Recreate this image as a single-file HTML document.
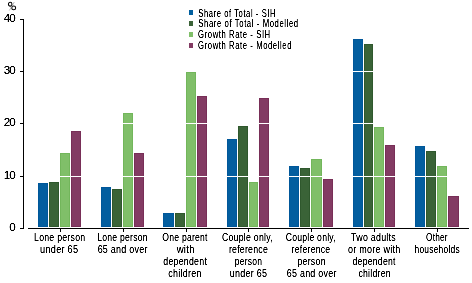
<!DOCTYPE html>
<html><head><meta charset="utf-8"><style>
html,body{margin:0;padding:0;background:#fff;}
svg{display:block;will-change:transform;}
text{font-family:"Liberation Sans",sans-serif;fill:#000;letter-spacing:0.3px;}
text.lg{letter-spacing:0.8px;}
text.num{letter-spacing:-0.9px;}
</style></head><body>
<svg width="472" height="283" viewBox="0 0 472 283">
<g shape-rendering="crispEdges">
<rect x="38" y="183" width="10" height="44" fill="#00579a"/>
<rect x="39" y="184" width="8" height="42" fill="#035e9f"/>
<rect x="49" y="182" width="10" height="45" fill="#2f582d"/>
<rect x="50" y="183" width="8" height="43" fill="#3a6337"/>
<rect x="60" y="153" width="10" height="74" fill="#72b65b"/>
<rect x="61" y="154" width="8" height="72" fill="#80bf69"/>
<rect x="71" y="131" width="10" height="96" fill="#782e57"/>
<rect x="72" y="132" width="8" height="94" fill="#833b63"/>
<rect x="101" y="187" width="10" height="40" fill="#00579a"/>
<rect x="102" y="188" width="8" height="38" fill="#035e9f"/>
<rect x="112" y="189" width="10" height="38" fill="#2f582d"/>
<rect x="113" y="190" width="8" height="36" fill="#3a6337"/>
<rect x="123" y="113" width="10" height="114" fill="#72b65b"/>
<rect x="124" y="114" width="8" height="112" fill="#80bf69"/>
<rect x="134" y="153" width="10" height="74" fill="#782e57"/>
<rect x="135" y="154" width="8" height="72" fill="#833b63"/>
<rect x="163" y="213" width="11" height="14" fill="#00579a"/>
<rect x="164" y="214" width="9" height="12" fill="#035e9f"/>
<rect x="175" y="213" width="10" height="14" fill="#2f582d"/>
<rect x="176" y="214" width="8" height="12" fill="#3a6337"/>
<rect x="186" y="72" width="10" height="155" fill="#72b65b"/>
<rect x="187" y="73" width="8" height="153" fill="#80bf69"/>
<rect x="197" y="96" width="10" height="131" fill="#782e57"/>
<rect x="198" y="97" width="8" height="129" fill="#833b63"/>
<rect x="227" y="139" width="10" height="88" fill="#00579a"/>
<rect x="228" y="140" width="8" height="86" fill="#035e9f"/>
<rect x="238" y="126" width="10" height="101" fill="#2f582d"/>
<rect x="239" y="127" width="8" height="99" fill="#3a6337"/>
<rect x="249" y="182" width="9" height="45" fill="#72b65b"/>
<rect x="250" y="183" width="7" height="43" fill="#80bf69"/>
<rect x="259" y="98" width="10" height="129" fill="#782e57"/>
<rect x="260" y="99" width="8" height="127" fill="#833b63"/>
<rect x="289" y="166" width="10" height="61" fill="#00579a"/>
<rect x="290" y="167" width="8" height="59" fill="#035e9f"/>
<rect x="300" y="168" width="10" height="59" fill="#2f582d"/>
<rect x="301" y="169" width="8" height="57" fill="#3a6337"/>
<rect x="311" y="159" width="11" height="68" fill="#72b65b"/>
<rect x="312" y="160" width="9" height="66" fill="#80bf69"/>
<rect x="323" y="179" width="10" height="48" fill="#782e57"/>
<rect x="324" y="180" width="8" height="46" fill="#833b63"/>
<rect x="353" y="39" width="10" height="188" fill="#00579a"/>
<rect x="354" y="40" width="8" height="186" fill="#035e9f"/>
<rect x="364" y="44" width="9" height="183" fill="#2f582d"/>
<rect x="365" y="45" width="7" height="181" fill="#3a6337"/>
<rect x="374" y="127" width="10" height="100" fill="#72b65b"/>
<rect x="375" y="128" width="8" height="98" fill="#80bf69"/>
<rect x="385" y="145" width="10" height="82" fill="#782e57"/>
<rect x="386" y="146" width="8" height="80" fill="#833b63"/>
<rect x="415" y="146" width="10" height="81" fill="#00579a"/>
<rect x="416" y="147" width="8" height="79" fill="#035e9f"/>
<rect x="426" y="151" width="10" height="76" fill="#2f582d"/>
<rect x="427" y="152" width="8" height="74" fill="#3a6337"/>
<rect x="437" y="166" width="10" height="61" fill="#72b65b"/>
<rect x="438" y="167" width="8" height="59" fill="#80bf69"/>
<rect x="448" y="196" width="11" height="31" fill="#782e57"/>
<rect x="449" y="197" width="9" height="29" fill="#833b63"/>
<rect x="24" y="19" width="446" height="1" fill="#fff"/>
<rect x="24" y="71" width="446" height="1" fill="#fff"/>
<rect x="24" y="123" width="446" height="1" fill="#fff"/>
<rect x="24" y="176" width="446" height="1" fill="#fff"/>
<rect x="23" y="19" width="1" height="210" fill="#000"/>
<rect x="20" y="19" width="3" height="1" fill="#000"/>
<rect x="20" y="71" width="3" height="1" fill="#000"/>
<rect x="20" y="123" width="3" height="1" fill="#000"/>
<rect x="20" y="176" width="3" height="1" fill="#000"/>
<rect x="20" y="228" width="3" height="1" fill="#000"/>
<rect x="28" y="228" width="441" height="1" fill="#000"/>
<rect x="60" y="229" width="1" height="3" fill="#000"/>
<rect x="123" y="229" width="1" height="3" fill="#000"/>
<rect x="186" y="229" width="1" height="3" fill="#000"/>
<rect x="248" y="229" width="1" height="3" fill="#000"/>
<rect x="311" y="229" width="1" height="3" fill="#000"/>
<rect x="374" y="229" width="1" height="3" fill="#000"/>
<rect x="437" y="229" width="1" height="3" fill="#000"/>
</g>
<defs><filter id="c" x="0" y="0" width="472" height="283" filterUnits="userSpaceOnUse"><feComponentTransfer><feFuncA type="linear" slope="1.8" intercept="-0.22"/></feComponentTransfer></filter></defs>
<g fill="none" stroke="#000"><ellipse cx="10.2" cy="4.2" rx="1.75" ry="1.95" stroke-width="1.05"/><ellipse cx="13.7" cy="7.9" rx="1.95" ry="1.9" stroke-width="1.05"/><line x1="14.3" y1="2" x2="9.3" y2="10.5" stroke="#999" stroke-width="0.7"/></g>
<g filter="url(#c)">
<text class="num" transform="translate(14.70,21.9) scale(1.0600,1)" text-anchor="end" style="font-size:11px">40</text>
<text class="num" transform="translate(14.70,73.9) scale(1.0600,1)" text-anchor="end" style="font-size:11px">30</text>
<text class="num" transform="translate(14.70,125.9) scale(1.0600,1)" text-anchor="end" style="font-size:11px">20</text>
<text class="num" transform="translate(14.70,178.9) scale(1.0600,1)" text-anchor="end" style="font-size:11px">10</text>
<text class="num" transform="translate(14.70,230.9) scale(1.0600,1)" text-anchor="end" style="font-size:11px">0</text>
<rect x="189" y="10" width="4" height="5" fill="#035e9f"/>
<text class="lg" transform="translate(198.30,16.8) scale(0.7189,1)" text-anchor="start" style="font-size:10.6px">Share of Total - SIH</text>
<rect x="189" y="21" width="4" height="5" fill="#3a6337"/>
<text class="lg" transform="translate(198.30,26.8) scale(0.7309,1)" text-anchor="start" style="font-size:10.6px">Share of Total - Modelled</text>
<rect x="189" y="32" width="4" height="5" fill="#80bf69"/>
<text class="lg" transform="translate(198.10,37.8) scale(0.7257,1)" text-anchor="start" style="font-size:10.6px">Growth Rate - SIH</text>
<rect x="189" y="43" width="4" height="5" fill="#833b63"/>
<text class="lg" transform="translate(198.10,48.8) scale(0.7256,1)" text-anchor="start" style="font-size:10.6px">Growth Rate - Modelled</text>
<text class="" transform="translate(59.70,240.7) scale(0.7964,1)" text-anchor="middle" style="font-size:11px">Lone person</text>
<text class="" transform="translate(59.20,252.75) scale(0.8350,1)" text-anchor="middle" style="font-size:11px">under 65</text>
<text class="" transform="translate(122.50,240.7) scale(0.7842,1)" text-anchor="middle" style="font-size:11px">Lone person</text>
<text class="" transform="translate(122.70,252.75) scale(0.8180,1)" text-anchor="middle" style="font-size:11px">65 and over</text>
<text class="" transform="translate(185.00,240.7) scale(0.7842,1)" text-anchor="middle" style="font-size:11px">One parent</text>
<text class="" transform="translate(185.70,252.75) scale(0.8690,1)" text-anchor="middle" style="font-size:11px">with</text>
<text class="" transform="translate(185.20,264.8) scale(0.8004,1)" text-anchor="middle" style="font-size:11px">dependent</text>
<text class="" transform="translate(185.00,276.85) scale(0.8141,1)" text-anchor="middle" style="font-size:11px">children</text>
<text class="" transform="translate(247.40,240.7) scale(0.7970,1)" text-anchor="middle" style="font-size:11px">Couple only,</text>
<text class="" transform="translate(248.50,252.75) scale(0.7984,1)" text-anchor="middle" style="font-size:11px">reference</text>
<text class="" transform="translate(248.50,264.8) scale(0.7763,1)" text-anchor="middle" style="font-size:11px">person</text>
<text class="" transform="translate(248.50,276.85) scale(0.8176,1)" text-anchor="middle" style="font-size:11px">under 65</text>
<text class="" transform="translate(310.80,240.7) scale(0.7870,1)" text-anchor="middle" style="font-size:11px">Couple only,</text>
<text class="" transform="translate(311.00,252.75) scale(0.7896,1)" text-anchor="middle" style="font-size:11px">reference</text>
<text class="" transform="translate(311.60,264.8) scale(0.8025,1)" text-anchor="middle" style="font-size:11px">person</text>
<text class="" transform="translate(311.70,276.85) scale(0.8136,1)" text-anchor="middle" style="font-size:11px">65 and over</text>
<text class="" transform="translate(373.50,240.7) scale(0.8076,1)" text-anchor="middle" style="font-size:11px">Two adults</text>
<text class="" transform="translate(374.30,252.75) scale(0.8210,1)" text-anchor="middle" style="font-size:11px">or more with</text>
<text class="" transform="translate(374.10,264.8) scale(0.7907,1)" text-anchor="middle" style="font-size:11px">dependent</text>
<text class="" transform="translate(374.60,276.85) scale(0.7930,1)" text-anchor="middle" style="font-size:11px">children</text>
<text class="" transform="translate(436.90,240.7) scale(0.7555,1)" text-anchor="middle" style="font-size:11px">Other</text>
<text class="" transform="translate(437.20,252.75) scale(0.7674,1)" text-anchor="middle" style="font-size:11px">households</text>
</g>
</svg>
</body></html>
